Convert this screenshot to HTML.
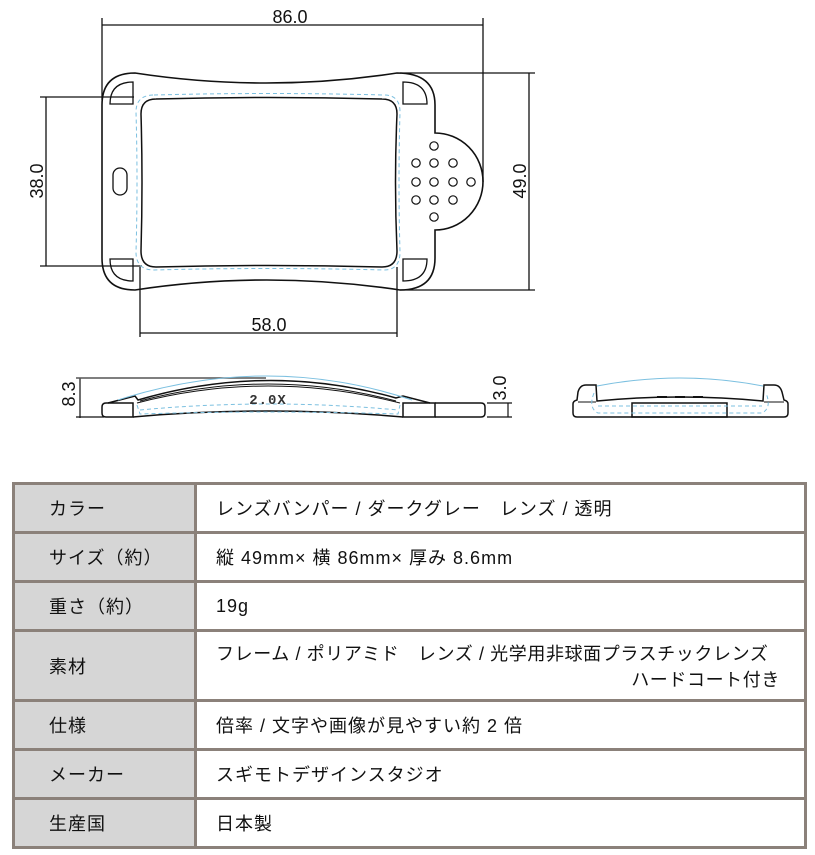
<!DOCTYPE html>
<html><head><meta charset="utf-8"><style>
html,body{margin:0;padding:0;background:#fff;width:815px;height:855px;overflow:hidden;position:relative}
svg{position:absolute;left:0;top:0}
table{position:absolute;left:12px;top:482px;width:795px;border-collapse:collapse;font-family:"Liberation Sans","Noto Sans CJK JP",sans-serif;font-size:18px;letter-spacing:1px;color:#111}
td{border:3px solid #8b817a;padding:0}
td.l{background:#d6d6d6;width:145px;padding-left:34px}
td.v{padding-left:19px;padding-right:24px}
</style></head><body>
<svg width="815" height="470" viewBox="0 0 815 470" font-family="Liberation Sans, sans-serif">
<g fill="none" stroke="#111" stroke-width="1.3">
<line x1="102" y1="18" x2="102" y2="100"/>
<line x1="483" y1="18" x2="483" y2="182"/>
<line x1="102" y1="25" x2="483" y2="25"/>
<line x1="40" y1="97" x2="134" y2="97"/>
<line x1="40" y1="266" x2="142" y2="266"/>
<line x1="46" y1="97" x2="46" y2="266"/>
<line x1="400" y1="73" x2="535" y2="73"/>
<line x1="400" y1="290" x2="535" y2="290"/>
<line x1="529" y1="73" x2="529" y2="290"/>
<line x1="140" y1="267" x2="140" y2="337"/>
<line x1="397" y1="267" x2="397" y2="337"/>
<line x1="140" y1="333" x2="397" y2="333"/>
<path stroke-width="1.6" d="M135,73 Q266,93 397,73 Q435,73 435,105 L435,133 A48,48.5 0 0 1 435,230 L435,258 Q435,290 400,290 Q266,270 135,290 Q102,290 102,258 L102,105 Q102,73 135,73 Z"/>
<path stroke-width="1.5" d="M156,99 Q268,96 382,99 Q397,99 397,114 Q394,182 397,251 Q397,267 382,267 Q268,264 156,267 Q141,267 141,251 Q143,182 141,114 Q141,99 156,99 Z"/>
<path d="M133,82 L133,104 L110,104 Q110,82 133,82 Z"/>
<path d="M403,82 L403,104 L427,104 Q427,82 403,82 Z"/>
<path d="M133,281 L133,259 L110,259 Q110,281 133,281 Z"/>
<path d="M403,281 L403,259 L427,259 Q427,281 403,281 Z"/>
<rect x="113" y="168" width="14" height="27" rx="7"/>
<g stroke-width="1.2">
<circle cx="434" cy="146" r="4.2"/>
<circle cx="416" cy="163" r="4.2"/><circle cx="434" cy="163" r="4.2"/><circle cx="453" cy="163" r="4.2"/>
<circle cx="416" cy="182" r="4.2"/><circle cx="434" cy="182" r="4.2"/><circle cx="453" cy="182" r="4.2"/><circle cx="471" cy="182" r="4.2"/>
<circle cx="416" cy="200" r="4.2"/><circle cx="434" cy="200" r="4.2"/><circle cx="453" cy="200" r="4.2"/>
<circle cx="434" cy="217" r="4.2"/>
</g>
</g>
<path fill="none" stroke="#7cc0e0" stroke-width="1" stroke-dasharray="4,3" d="M154,95 Q268,92 384,95 Q400,95 400,112 Q398,182 400,252 Q400,270 384,270 Q268,267 154,270 Q136,270 136,252 Q138,182 136,112 Q136,95 154,95 Z"/>
<g font-size="18" fill="#111">
<text x="290" y="23" text-anchor="middle">86.0</text>
<text x="269" y="331" text-anchor="middle">58.0</text>
<text transform="translate(43,181) rotate(-90)" text-anchor="middle">38.0</text>
<text transform="translate(526,181) rotate(-90)" text-anchor="middle">49.0</text>
<text transform="translate(75,394) rotate(-90)" text-anchor="middle">8.3</text>
<text transform="translate(506,388) rotate(-90)" text-anchor="middle">3.0</text>
</g>
<g fill="none" stroke="#111" stroke-width="1.2">
<line x1="80" y1="378" x2="80" y2="418"/>
<line x1="76" y1="378" x2="266" y2="378" stroke="#555" stroke-width="1.5"/>
<line x1="76" y1="417" x2="104" y2="417"/>
<line x1="508" y1="403" x2="508" y2="417"/>
<line x1="487" y1="403" x2="512" y2="403"/>
<line x1="487" y1="417" x2="512" y2="417"/>
<path stroke-width="1.5" d="M106,403 L133,403 L133,417 L106,417 Q102,417 102,413 L102,407 Q102,403 106,403 Z"/>
<path stroke-width="1.5" d="M133,417 Q268,405 403,417"/>
<path stroke-width="1.5" d="M403,403 L435,403 L435,417 L403,417 Z"/>
<path stroke-width="1.5" d="M435,403 L481,403 Q485,403 485,407 L485,413 Q485,417 481,417 L435,417"/>
<path stroke-width="1.5" d="M108,403 L135,396 L138,400 Q268,362 396,398 L403,396 L430,403"/>
<path stroke-width="1" d="M140,401 Q268,367 396,401"/>
<path stroke-width="1" d="M137,403 Q268,369 400,403"/>
</g>
<path fill="none" stroke="#7cc0e0" stroke-width="1" d="M118,400 Q268,352 412,400"/>
<path fill="none" stroke="#7cc0e0" stroke-width="1" stroke-dasharray="4,3" d="M137,405 L140,414 Q268,410 398,414 L400,405 M140,410 Q268,398 398,410"/>
<text x="268" y="404" text-anchor="middle" font-family="Liberation Mono, monospace" font-weight="bold" font-size="14" fill="#333" letter-spacing="1">2.0X</text>
<g fill="none" stroke="#111" stroke-width="1.5">
<path d="M577,417 Q573,417 573,413 L573,404 Q573,401 577,400 L578,392 Q580,385 586,385 L596,385 L597,401 Q680,393 763,401 L764,385 L774,385 Q780,385 782,392 L784,400 Q788,401 788,404 L788,413 Q788,417 784,417 Z"/>
<rect x="632" y="403" width="95" height="14"/>
<line x1="578" y1="402" x2="596" y2="402" stroke-width="1"/>
<line x1="764" y1="402" x2="784" y2="402" stroke-width="1"/>
<line x1="657" y1="397" x2="667" y2="397" stroke-width="2"/>
<line x1="675" y1="397" x2="685" y2="397" stroke-width="2"/>
<line x1="693" y1="397" x2="703" y2="397" stroke-width="2"/>
</g>
<path fill="none" stroke="#7cc0e0" stroke-width="1" d="M597,386 Q680,370 763,386"/>
<path fill="none" stroke="#7cc0e0" stroke-width="1" stroke-dasharray="4,3" d="M594,393 Q588,408 598,413 L762,413 Q772,408 766,393 M598,406 L762,406"/>
</svg>
<table>
<tr style="height:49px"><td class="l">カラー</td><td class="v">レンズバンパー / ダークグレー　レンズ / 透明</td></tr>
<tr style="height:49px"><td class="l">サイズ（約）</td><td class="v">縦 49mm× 横 86mm× 厚み 8.6mm</td></tr>
<tr style="height:49px"><td class="l">重さ（約）</td><td class="v">19g</td></tr>
<tr style="height:70px"><td class="l">素材</td><td class="v" style="letter-spacing:0.6px">フレーム / ポリアミド　レンズ / 光学用非球面プラスチックレンズ<div style="text-align:right">ハードコート付き</div></td></tr>
<tr style="height:49px"><td class="l">仕様</td><td class="v">倍率 / 文字や画像が見やすい約 2 倍</td></tr>
<tr style="height:49px"><td class="l">メーカー</td><td class="v">スギモトデザインスタジオ</td></tr>
<tr style="height:49px"><td class="l">生産国</td><td class="v">日本製</td></tr>
</table>
</body></html>
